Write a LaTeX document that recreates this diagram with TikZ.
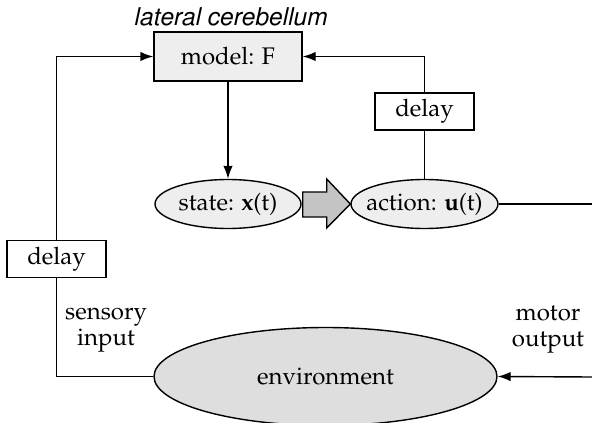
\documentclass[tikz,border=0pt]{standalone}
\usepackage[T1]{fontenc}
\usepackage{mathpazo}
\usepackage{helvet}
\usetikzlibrary{shapes.geometric,arrows.meta,calc}

\definecolor{boxfill}{HTML}{EEEEEE}
\definecolor{envfill}{HTML}{DEDEDE}
\definecolor{bigarrowfill}{HTML}{C4C4C4}

\tikzset{
  every node/.style={font=\fontsize{24}{29}\selectfont},
  modelbox/.style={draw, fill=boxfill, minimum width=148, minimum height=49, inner sep=0},
  delaybox/.style={draw, fill=white, minimum width=99, minimum height=37, inner sep=0},
  oval/.style={draw, ellipse, fill=boxfill, inner sep=0},
  conn/.style={draw, line width=1.4pt},
  arr/.style={conn, -{Latex[length=13pt,width=9.5pt]}},
  bigarrow/.style={draw, line width=1.4pt, fill=bigarrowfill, line join=miter}
}

\begin{document}
\begin{tikzpicture}[x=1pt, y=-1pt, line width=1.4pt]
  \useasboundingbox (0,0) rectangle (592,423);

  % blocks of the controller
  \node[modelbox] (model) at (228,56.5) {model: F};
  \node[font=\fontsize{24.5}{29}\selectfont\sffamily\itshape] (lat) at (230,17) {lateral cerebellum};
  \node[delaybox] (delayA) at (424.5,111.5) {delay};
  \node[oval, minimum width=146, minimum height=49, label=center:{state: \textbf{x}(t)}] (state) at (228,204) {};
  \node[oval, minimum width=147, minimum height=49, label=center:{action: \textbf{u}(t)}] (action) at (424.5,204) {};

  % sensory path
  \node[delaybox] (delayB) at (56.5,259) {delay};
  \node[align=center, font=\fontsize{24}{26}\selectfont] (sens) at (106,330) {sensory\\input};
  \node[align=center, font=\fontsize{24}{26}\selectfont] (motor) at (548,330) {motor\\output};

  % world
  \node[oval, fill=envfill, minimum width=343, minimum height=98, label=center:{environment}] (env) at (325.5,376.5) {};

  % free ends at the right edge
  \coordinate (outR) at (592,204);
  \coordinate (inR) at (592,377);

  % connectors
  \draw[arr] (model.south) -- (state.north);
  \draw[conn] (action.north) -- (delayA.south);
  \draw[arr] (delayA.north) |- (model.east);
  \draw[conn] (action.east) -- (outR);
  \draw[arr] (inR) -- (env.east);
  \draw[conn] (env.west) -| (delayB.south);
  \draw[arr] (delayB.north) |- (model.west);

  % thick arrow from state to action
  \draw[bigarrow]
    ($(state.east)+(1,-12)$) -- ($(state.east)+(25,-12)$) -- ($(state.east)+(25,-25)$)
    -- (action.west)
    -- ($(state.east)+(25,24)$) -- ($(state.east)+(25,13)$) -- ($(state.east)+(1,13)$) -- cycle;
\end{tikzpicture}
\end{document}
